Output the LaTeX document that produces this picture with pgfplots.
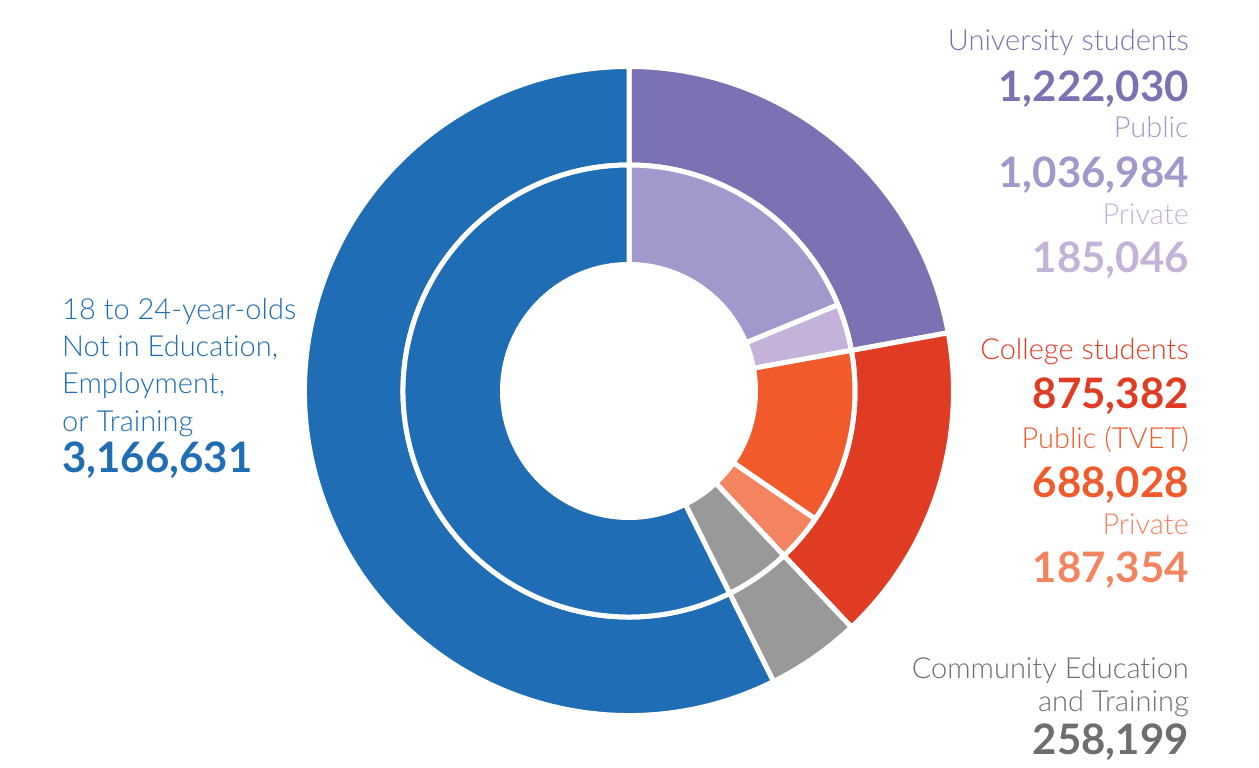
\documentclass[border=0pt]{standalone}
\usepackage{pgfplots}
\pgfplotsset{compat=1.18}
\usepackage{pgfplotstable}
\usepackage{fontspec}
\setmainfont{Lato}
\newfontfamily\lightfont[Ligatures={NoCommon}]{Lato Light}

\definecolor{uni}{HTML}{7B72B4}
\definecolor{unipub}{HTML}{A298CB}
\definecolor{unipriv}{HTML}{C4B2D8}
\definecolor{col}{HTML}{E03C24}
\definecolor{colpub}{HTML}{F15A2B}
\definecolor{colpriv}{HTML}{F4845F}
\definecolor{cet}{HTML}{999999}
\definecolor{cettext}{HTML}{6D6E71}
\definecolor{neet}{HTML}{1F6DB5}

% outer ring: sectors
\pgfplotstableread{
value   color
1222030 uni
875382  col
258199  cet
3166631 neet
}\outerring

% inner ring: public / private split
\pgfplotstableread{
value   color
1036984 unipub
185046  unipriv
688028  colpub
187354  colpriv
258199  cet
3166631 neet
}\innerring

% #1 table, #2 inner radius, #3 outer radius (pt)
\newcommand\drawring[3]{%
  \pgfplotstablegetrowsof{#1}%
  \edef\lastrow{\the\numexpr\pgfplotsretval-1\relax}%
  \def\total{0}%
  \pgfplotsforeachungrouped \i in {0,...,\lastrow}{%
    \pgfplotstablegetelem{\i}{value}\of{#1}%
    \edef\total{\fpeval{\total+\pgfplotsretval}}}%
  \def\cum{0}%
  \pgfplotsforeachungrouped \i in {0,...,\lastrow}{%
    \pgfplotstablegetelem{\i}{value}\of{#1}%
    \edef\a{\fpeval{90-360*\cum/\total}}%
    \edef\cum{\fpeval{\cum+\pgfplotsretval}}%
    \edef\b{\fpeval{90-360*\cum/\total}}%
    \pgfplotstablegetelem{\i}{color}\of{#1}%
    \edef\doit{\noexpand\fill[shift={(axis cs:629,377)}, fill=\pgfplotsretval,
      draw=white, line width=5pt, line join=round]
      (\a:#3pt) arc[start angle=\a, end angle=\b, radius=#3pt]
      -- (\b:#2pt) arc[start angle=\b, end angle=\a, radius=#2pt] -- cycle;}%
    \doit}%
}

\newcommand\lab{\lightfont\fontsize{29}{33}\selectfont}
\newcommand\num{\bfseries\fontsize{42}{46}\selectfont}

\begin{document}
\begin{tikzpicture}
\begin{axis}[
  x=1pt, y=1pt,
  xmin=0, xmax=1259, ymin=0, ymax=768,
  hide axis, clip=false,
  at={(0,0)}, anchor=origin,
]
\drawring{\outerring}{226}{324.5}
\drawring{\innerring}{126.5}{226}

\tikzset{every node/.append style={inner sep=0pt}}
% right-hand labels
\node[anchor=base east, text=uni, font=\lab] at (axis cs:1189,717) {University students};
\node[anchor=base east, text=uni, font=\num] at (axis cs:1189,666) {1,222,030};
\node[anchor=base east, text=unipub, font=\lab] at (axis cs:1189,630) {Public};
\node[anchor=base east, text=unipub, font=\num] at (axis cs:1189,580) {1,036,984};
\node[anchor=base east, text=unipriv, font=\lab] at (axis cs:1189,543) {Private};
\node[anchor=base east, text=unipriv, font=\num] at (axis cs:1189,495) {185,046};

\node[anchor=base east, text=col, font=\lab] at (axis cs:1189,408) {College students};
\node[anchor=base east, text=col, font=\num] at (axis cs:1189,359) {875,382};
\node[anchor=base east, text=colpub, font=\lab] at (axis cs:1189,319) {Public (TVET)};
\node[anchor=base east, text=colpub, font=\num] at (axis cs:1189,270) {688,028};
\node[anchor=base east, text=colpriv, font=\lab] at (axis cs:1189,233) {Private};
\node[anchor=base east, text=colpriv, font=\num] at (axis cs:1189,185) {187,354};

\node[anchor=base east, text=cettext, font=\lab] at (axis cs:1189,89) {Community Education};
\node[anchor=base east, text=cettext, font=\lab] at (axis cs:1189,56) {and Training};
\node[anchor=base east, text=cettext, font=\num] at (axis cs:1189,13) {258,199};

% left-hand label
\node[anchor=base west, text=neet, font=\lab] at (axis cs:62,448) {18 to 24-year-olds};
\node[anchor=base west, text=neet, font=\lab] at (axis cs:62,411) {Not in Education,};
\node[anchor=base west, text=neet, font=\lab] at (axis cs:62,374) {Employment,};
\node[anchor=base west, text=neet, font=\lab] at (axis cs:62,336) {or Training};
\node[anchor=base west, text=neet, font=\num] at (axis cs:62,295) {3,166,631};
\end{axis}
\pgfresetboundingbox
\path (0,0) rectangle (1259pt,768pt);
\end{tikzpicture}
\end{document}
